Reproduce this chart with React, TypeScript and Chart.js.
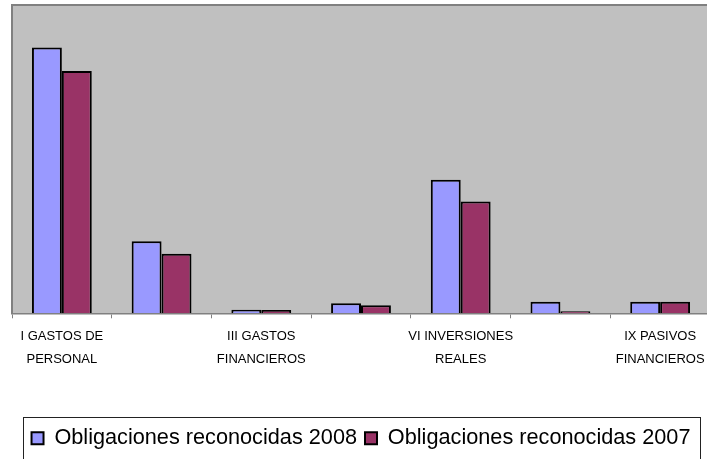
import React, { useEffect, useRef } from "react";
import { Chart, registerables } from "chart.js";

Chart.register(...registerables);

const categories: string[][] = [
  ["I GASTOS DE", "PERSONAL"],
  ["II GASTOS EN BIENES", "CORRIENTES Y SERVICIOS"],
  ["III GASTOS", "FINANCIEROS"],
  ["IV TRANSFERENCIAS", "CORRIENTES"],
  ["VI INVERSIONES", "REALES"],
  ["VII TRANSFERENCIAS", "DE CAPITAL"],
  ["IX PASIVOS", "FINANCIEROS"],
];
const shownLabelIndexes = [0, 2, 4, 6];
const series2008 = [2656, 720, 36, 100, 1333, 116, 116];
const series2007 = [2420, 596, 33, 80, 1116, 20, 116];
const seriesNames = ["Obligaciones reconocidas 2008", "Obligaciones reconocidas 2007"];
const yMax = 3070;

const plotDecor = {
  id: "plotDecor",
  beforeDraw(chart: any) {
    const { ctx, chartArea: a } = chart;
    ctx.save();
    ctx.fillStyle = "#C0C0C0";
    ctx.fillRect(a.left, a.top, a.right - a.left, a.bottom - a.top);
    ctx.strokeStyle = "#808080";
    ctx.lineWidth = 2;
    ctx.beginPath();
    ctx.moveTo(a.left, a.bottom);
    ctx.lineTo(a.left, a.top - 1);
    ctx.lineTo(a.right, a.top - 1);
    ctx.stroke();
    ctx.restore();
  },
  afterDraw(chart: any) {
    const boxes = chart.legend && chart.legend.legendHitBoxes;
    if (!boxes || !boxes.length) return;
    let l = Infinity, t = Infinity, r = -Infinity;
    for (const b of boxes) {
      l = Math.min(l, b.left);
      t = Math.min(t, b.top);
      r = Math.max(r, b.left + b.width);
    }
    const { ctx } = chart;
    ctx.save();
    ctx.strokeStyle = "#222";
    ctx.lineWidth = 1;
    const x0 = Math.round(l - 9) + 0.5;
    const y0 = Math.round(t - 10) + 0.5;
    const x1 = Math.round(r + 10) + 0.5;
    ctx.strokeRect(x0, y0, x1 - x0, chart.height + 10 - y0);
    ctx.restore();
  },
};

export default function App() {
  const ref = useRef<HTMLCanvasElement | null>(null);
  useEffect(() => {
    if (!ref.current) return;
    const chart = new Chart(ref.current, {
      type: "bar",
      data: {
        labels: categories,
        datasets: [
          {
            label: seriesNames[0],
            data: series2008,
            backgroundColor: "#9999FF",
            borderColor: "#000000",
            borderWidth: 2,
          },
          {
            label: seriesNames[1],
            data: series2007,
            backgroundColor: "#993366",
            borderColor: "#000000",
            borderWidth: 2,
          },
        ],
      },
      options: {
        animation: false,
        responsive: true,
        maintainAspectRatio: false,
        layout: { padding: { left: 12, right: 6, top: 6, bottom: 0 } },
        datasets: { bar: { categoryPercentage: 0.6, barPercentage: 1.0 } },
        scales: {
          x: {
            grid: {
              display: true,
              drawOnChartArea: false,
              drawTicks: true,
              tickLength: 5,
              color: "#808080",
              lineWidth: 1,
            },
            border: { display: true, color: "#808080", width: 1.5 },
            ticks: {
              autoSkip: false,
              maxRotation: 0,
              minRotation: 0,
              padding: 7,
              color: "#000000",
              font: { family: "'Liberation Sans', Arial, sans-serif", size: 13, lineHeight: 1.77 },
              callback: (_v: any, i: number) =>
                shownLabelIndexes.includes(i) ? categories[i] : "",
            },
            afterFit: (s: any) => {
              s.height = 106;
            },
          },
          y: { display: false, min: 0, max: yMax },
        },
        plugins: {
          tooltip: { enabled: false },
          legend: {
            position: "bottom",
            labels: {
              boxWidth: 12,
              boxHeight: 12,
              padding: 8,
              color: "#000000",
              font: { family: "'Liberation Sans', Arial, sans-serif", size: 21.7 },
            },
          },
        },
      },
      plugins: [plotDecor],
    });
    return () => chart.destroy();
  }, []);
  return (
    <div style={{ position: "fixed", left: 0, top: 0, width: 707, height: 459, overflow: "hidden", background: "#fff" }}>
      <div style={{ position: "relative", width: 716, height: 459 }}>
        <canvas ref={ref} />
      </div>
    </div>
  );
}
